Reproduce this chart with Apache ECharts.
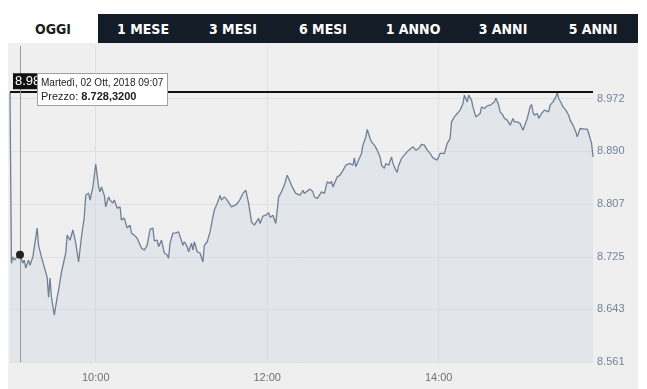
<!DOCTYPE html>
<html><head><meta charset="utf-8">
<script src="https://cdn.jsdelivr.net/npm/echarts@6/dist/echarts.min.js"></script>
<style>
html,body{margin:0;padding:0;background:#fff;width:647px;height:389px;overflow:hidden;}
#bg{position:absolute;left:8px;top:43px;width:630px;height:346px;background:#efefef;}
#chart{position:absolute;left:0;top:0;width:647px;height:389px;}
#tabs{position:absolute;left:8px;top:14px;height:29px;width:630px;display:flex;}
.tab{width:90px;height:29px;line-height:30px;text-align:center;font-family:"DejaVu Sans Condensed","DejaVu Sans",sans-serif;font-weight:bold;font-size:14px;color:#fff;background:#141c27;}
.tab.on{background:#fff;color:#1e1e1e;}
</style></head><body>
<div id="bg"></div>
<div id="chart"></div>
<div id="tabs"></div>
<script>
const tabLabels = ['OGGI','1 MESE','3 MESI','6 MESI','1 ANNO','3 ANNI','5 ANNI'];
const activeTab = 'OGGI';

const times = ['09:00','09:01','09:02','09:03','09:04','09:05','09:06','09:07','09:09','09:10','09:11','09:13','09:14','09:16','09:17','09:19','09:20','09:22','09:24','09:26','09:27','09:28','09:29','09:31','09:33','09:34','09:36','09:37','09:39','09:40','09:42','09:44','09:46','09:48','09:50','09:52','09:53','09:55','09:56','09:58',
'10:00','10:02','10:03','10:04','10:06','10:07','10:09','10:10','10:12','10:13','10:15','10:17','10:18','10:20','10:22','10:24','10:25','10:27','10:29','10:30','10:32','10:34','10:36','10:38','10:40','10:41','10:43','10:44','10:46','10:48','10:50','10:51','10:52','10:54','10:56','10:58','10:59',
'11:01','11:02','11:04','11:05','11:07','11:08','11:09','11:11','11:13','11:15','11:16','11:18','11:20','11:22','11:23','11:25','11:27','11:28','11:30','11:32','11:33','11:35','11:36','11:38','11:40','11:41','11:43','11:45','11:46','11:47','11:49','11:51','11:52','11:54','11:55','11:57','11:59',
'12:01','12:02','12:04','12:06','12:08','12:10','12:12','12:14','12:15','12:16','12:18','12:20','12:21','12:23','12:25','12:26','12:28','12:30','12:32','12:33','12:35','12:36','12:38','12:40','12:42','12:44','12:45','12:46','12:48','12:49','12:51','12:53','12:55','12:56','12:58',
'13:00','13:01','13:02','13:04','13:06','13:07','13:09','13:10','13:12','13:13','13:15','13:17','13:19','13:20','13:22','13:23','13:25','13:27','13:28','13:30','13:31','13:32','13:34','13:35','13:37','13:39','13:40','13:42','13:44','13:46','13:48','13:49','13:50','13:52','13:54','13:56','13:57','13:59',
'14:01','14:02','14:04','14:06','14:07','14:08','14:09','14:11','14:13','14:15','14:17','14:18','14:20','14:21','14:23','14:24','14:26','14:27','14:29','14:30','14:32','14:34','14:36','14:37','14:39','14:40','14:42','14:43','14:45','14:46','14:48','14:50','14:52','14:53','14:55','14:57','14:59',
'15:00','15:02','15:04','15:05','15:06','15:07','15:09','15:10','15:12','15:14','15:15','15:17','15:18','15:20','15:22','15:23','15:24','15:26','15:27','15:29','15:31','15:32','15:34','15:36','15:37','15:39','15:40','15:42','15:44','15:45','15:46','15:47','15:48'];

const prices = [8982,8715,8725,8720,8723,8725,8726,8728.32,8715,8720,8707.5,8720,8712,8725,8724.5,8770,8743,8725,8709,8693.5,8662,8692,8662,8634,8662,8673,8701,8700,8731,8759,8751,8767,8746.5,8717,8756,8787.5,8821,8824.5,8813.6,8834,
8869.7,8834,8826.5,8834,8821,8803,8818.7,8813.6,8809,8813.6,8801,8803,8782.4,8785.5,8770,8774.6,8762,8759,8754,8756,8738.7,8735.6,8743,8768,8770,8750,8751,8741,8751,8731,8728,8723,8746.5,8762,8762.6,8764,8764,
8743,8748.6,8741,8733,8746.5,8735.6,8748.6,8733,8731,8717,8743,8748.6,8764,8787.5,8798,8808.4,8821,8813.6,8818.7,8813.6,8816,8803,8804,8806,8811,8814.7,8824,8829,8830,8808.4,8779.7,8774.6,8777,8785,8777,8788.6,8790,
8793.8,8786.6,8790,8777,8818.7,8826.5,8837,8852.5,8847.4,8850,8831.8,8824,8826.5,8821.4,8829,8824,8827.6,8830.7,8826.5,8818.7,8816,8813.6,8826.5,8824,8842,8839.6,8843,8834,8844.7,8849.9,8852.5,8860,8868,8868,8870.8,
8868,8879.5,8865.5,8876,8886.4,8899.3,8912,8923.8,8909.7,8904.4,8899.3,8891.5,8881,8868,8863,8870.8,8868,8881,8870.8,8860.3,8856.7,8868,8878.6,8881,8886.4,8891.5,8891.5,8896.7,8891.5,8894,8900.4,8898,8899.3,8891.5,8886.4,8879.5,8881,8876,
8886.4,8889,8886.4,8902,8899.3,8909.7,8935.6,8943.4,8948.7,8953.9,8964.3,8977.3,8966.8,8977.3,8969.5,8959,8943.4,8941,8948.7,8959,8956.5,8960.6,8961.7,8964.3,8966.8,8973,8961.7,8951.2,8946,8941,8938.3,8930.5,8941,8935.6,8935.6,8933,8922.7,
8920,8941,8959,8962.8,8951.2,8946,8948.7,8941,8948.7,8953.9,8956.5,8951.2,8961.7,8966.8,8974.6,8981.5,8972.1,8964.3,8959,8953.9,8946,8938.3,8930.5,8920,8912.2,8925.3,8925.3,8924.2,8924.2,8917.5,8915,8902,8881];

const yTicks = [8561, 8643, 8725, 8807, 8890, 8972];
const yMin = 8561, yMax = 9054;
const xTicks = ['10:00', '12:00', '14:00'];
const xStart = '09:00';
const refLine = 8982;
const hoverTime = '09:07';
const hoverDate = 'Martedì, 02 Ott, 2018';

function toMin(s){ const p = s.split(':'); return (+p[0])*60 + (+p[1]); }
function fmtTime(m){ const h = Math.floor(m/60), mm = Math.round(m%60); return String(h).padStart(2,'0') + ':' + String(mm).padStart(2,'0'); }
function itNum(v, dec){ const s = v.toFixed(dec); const parts = s.split('.'); const ip = parts[0].replace(/\B(?=(\d{3})+(?!\d))/g, '.'); return parts[1] ? ip + ',' + parts[1] : ip; }

// tabs
const tabsEl = document.getElementById('tabs');
tabLabels.forEach(t => { const d = document.createElement('div'); d.className = 'tab' + (t === activeTab ? ' on' : ''); d.textContent = t; tabsEl.appendChild(d); });

const data = times.map((t, i) => [toMin(t), prices[i]]);
const hoverIdx = times.indexOf(hoverTime);

const chart = echarts.init(document.getElementById('chart'));
chart.setOption({
  animation: false,
  backgroundColor: 'transparent',
  grid: { left: 10, right: 54, top: 46, bottom: 27 },
  xAxis: {
    type: 'value', min: toMin(xStart), max: toMin(times[times.length-1]),
    axisLine: { show: false },
    axisTick: { show: false, customValues: xTicks.map(toMin) },
    splitLine: { show: true, lineStyle: { color: '#e0e0e0', width: 1 } },
    axisLabel: { customValues: xTicks.map(toMin), formatter: v => fmtTime(v), color: '#707070', fontFamily: 'Liberation Sans, Arial, sans-serif', fontSize: 11, margin: 10 }
  },
  yAxis: {
    type: 'value', position: 'right', min: yMin, max: yMax,
    axisLine: { show: false },
    axisTick: { show: false, customValues: yTicks },
    splitLine: { show: true, lineStyle: { color: '#e0e0e0', width: 1 } },
    axisLabel: { customValues: yTicks, formatter: v => itNum(v, 0), color: '#73839a', fontFamily: 'Liberation Sans, Arial, sans-serif', fontSize: 11, margin: 4 }
  },
  tooltip: {
    trigger: 'axis', triggerOn: 'none', alwaysShowContent: true,
    position: [37, 73],
    axisPointer: { type: 'none' },
    backgroundColor: '#ffffff', borderColor: '#a0a0a0', borderWidth: 1,
    padding: [2, 4, 2, 3], transitionDuration: 0,
    extraCssText: 'box-shadow:none;border-radius:0;',
    formatter: params => {
      const p = params[0];
      return '<div style="font-family:Liberation Sans,Arial,sans-serif;font-size:10px;line-height:13px;color:#222">' + hoverDate + ' ' + fmtTime(p.value[0]) + '</div>' +
             '<div style="font-family:Liberation Sans,Arial,sans-serif;font-size:11px;line-height:14px;color:#222">Prezzo: <b>' + itNum(p.value[1], 4) + '</b></div>';
    }
  },
  series: [{
    type: 'line', data: data, symbol: 'none', showSymbol: false,
    emphasis: { disabled: true },
    lineStyle: { color: '#6f8096', width: 1.3 },
    areaStyle: { origin: 'start', color: 'rgba(199,209,222,0.45)' },
    markLine: {
      silent: true, symbol: 'none', animation: false,
      data: [
        { yAxis: refLine, lineStyle: { color: '#111', width: 2, type: 'solid' },
          label: { show: true, position: 'insideStartTop', distance: 3, formatter: p => itNum(p.value, 0), color: '#fff', backgroundColor: '#111', padding: [2, 2, 1, 2], fontSize: 13, fontFamily: 'Liberation Sans, Arial, sans-serif' } },
        { xAxis: toMin(hoverTime), lineStyle: { color: '#9a9a9a', width: 1, type: 'solid' }, label: { show: false } }
      ]
    },
    markPoint: {
      silent: true, animation: false,
      data: [{ coord: data[hoverIdx], symbol: 'circle', symbolSize: 8, itemStyle: { color: '#222' }, label: { show: false } }]
    }
  }]
});
chart.dispatchAction({ type: 'showTip', seriesIndex: 0, dataIndex: hoverIdx });
</script>
</body></html>
